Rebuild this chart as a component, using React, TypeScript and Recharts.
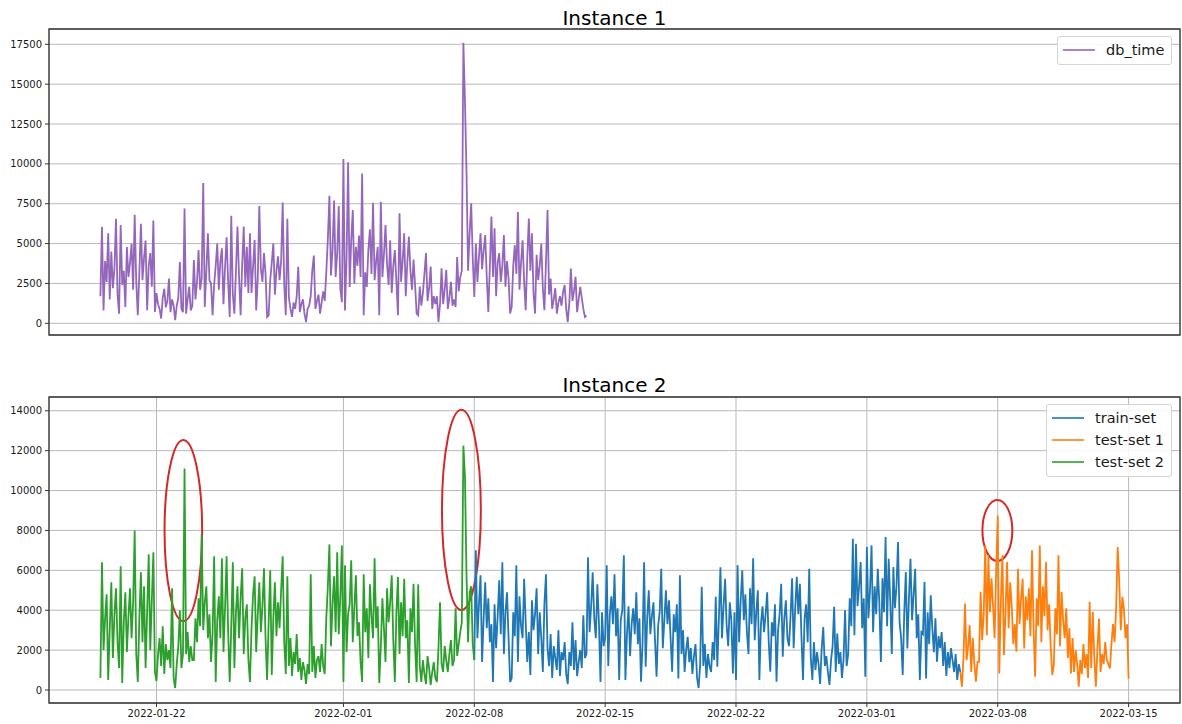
import React from 'react';
import { LineChart, Line, XAxis, YAxis, CartesianGrid, ReferenceArea, Legend } from 'recharts';

const FONT = '"DejaVu Sans", "Liberation Sans", sans-serif';
const STEP_MS = 2 * 3600 * 1000; // one sample every 2 hours

// ---- axes ----
const xTickLabels = ['2022-01-22', '2022-02-01', '2022-02-08', '2022-02-15', '2022-02-22', '2022-03-01', '2022-03-08', '2022-03-15'];
const xDomainLabels = ['2022-01-16T06:00Z', '2022-03-17T18:00Z'];
const topYTicks = [0, 2500, 5000, 7500, 10000, 12500, 15000, 17500];
const topYDomain = [-734, 18460];
const bottomYTicks = [0, 2000, 4000, 6000, 8000, 10000, 12000, 14000];
const bottomYDomain = [-652, 14690];

// ---- Instance 1 : db_time (2h samples, one row per day) ----
const dbTimeStart = '2022-01-19T00:00Z';
const dbTime = [
  1700, 6050, 800, 3900, 2600, 5650, 1500, 4500, 2200, 3400, 6550, 1800,
  600, 6170, 2400, 3300, 1030, 4790, 2900, 3800, 5000, 2100, 6800, 2600,
  500, 3200, 6250, 2700, 4100, 5190, 820, 3600, 4400, 2300, 6450, 710,
  1900, 1200, 900, 300, 1600, 2170, 1000, 1400, 2800, 700, 1500, 1100,
  200, 1100, 1600, 3850, 900, 700, 7200, 600, 1500, 2300, 800, 1100,
  3970, 1500, 2600, 4600, 2100, 2800, 8800, 1030, 3300, 5650, 2700, 2500,
  500, 2400, 3600, 5000, 2100, 3900, 4700, 1200, 3500, 5400, 2600, 400,
  6740, 1800, 600, 3300, 6070, 2900, 500, 3700, 6070, 2300, 4800, 1900,
  5650, 1900, 3600, 5230, 800, 2800, 7360, 3400, 2600, 4400, 3100, 400,
  500, 2700, 3800, 5020, 1800, 3300, 4200, 2700, 3900, 7570, 2400, 500,
  6550, 1600, 900, 400, 1300, 900, 1700, 3550, 700, 1200, 1500, 600,
  80, 900, 1100, 1700, 3300, 4250, 900, 1400, 1800, 600, 1300, 2000,
  1400, 3200, 5300, 8000, 3000, 4600, 7700, 2900, 4400, 7360, 2200, 1330,
  10300, 800, 4100, 10100, 2280, 5200, 7110, 2490, 4800, 3600, 5500, 2900,
  9400, 500, 3200, 2280, 4600, 5900, 3100, 7560, 2700, 3900, 4800, 500,
  7620, 2900, 4300, 6170, 3700, 2400, 5200, 1900, 3600, 4600, 2600, 500,
  6900, 2600, 3900, 5650, 1700, 3800, 5440, 3300, 2100, 4000, 2400, 610,
  500, 2300, 1100, 1900, 3100, 4410, 1400, 2200, 3560, 900, 1700, 1200,
  1700, 80, 1200, 3450, 1200, 2100, 3350, 900, 1600, 2600, 1100, 1500,
  1020, 4150, 2000, 2900, 3300, 17600, 14000, 9500, 3300, 5600, 7530, 4100,
  1650, 5000, 2600, 4200, 5650, 3400, 4600, 5540, 2900, 710, 3600, 6690,
  2900, 5960, 1700, 3800, 4400, 2600, 3600, 5540, 2300, 3900, 2800, 610,
  1020, 3600, 4900, 3100, 6980, 2100, 3800, 5200, 2600, 820, 4100, 6570,
  3300, 5650, 1900, 610, 4300, 2700, 3600, 5000, 2200, 820, 3800, 7110,
  1800, 2810, 900, 1500, 2200, 600, 1300, 1700, 1100, 2000, 2400, 900,
  80, 1300, 3430, 1400, 2000, 2910, 700, 1500, 2280, 1600, 900, 400,
  500,
];

// ---- Instance 2 : test-set 2 ----
const testSet2Start = '2022-01-19T00:00Z';
const testSet2 = [
  600, 6400, 2000, 3600, 4800, 500, 3100, 5400, 1600, 3800, 5100, 2400,
  1100, 6200, 350, 3400, 4900, 1900, 3700, 5100, 2600, 4400, 8000, 1800,
  400, 3600, 5900, 2400, 5200, 1100, 3900, 6800, 2000, 4500, 6900, 900,
  450, 1800, 2600, 1200, 3200, 800, 2300, 1500, 2000, 1100, 5100, 600,
  100, 1300, 2200, 4000, 1100, 1800, 11100, 1800, 2900, 1400, 2200, 1500,
  1500, 3600, 2400, 4600, 3200, 7800, 3000, 4400, 5200, 2600, 3800, 1400,
  2800, 6700, 400, 3500, 4700, 2600, 6600, 1900, 4100, 6700, 2900, 400,
  3200, 6400, 1100, 3900, 5200, 2600, 4600, 6100, 1800, 3600, 4300, 1500,
  400, 3100, 4800, 5700, 1900, 3800, 5400, 2900, 4200, 6100, 2600, 500,
  3400, 6000, 750, 3600, 5400, 2700, 4400, 3100, 5000, 6700, 2400, 800,
  5700, 1200, 2600, 700, 1900, 1300, 2800, 900, 1600, 500, 1400, 1000,
  300, 1300, 800, 5800, 900, 2200, 600, 1500, 1700, 900, 2300, 1200,
  800, 3600, 5200, 7300, 2200, 4300, 5700, 2900, 6900, 2800, 4700, 7250,
  400, 6250, 1900, 3800, 4300, 6500, 2400, 4100, 5750, 2700, 3400, 1400,
  400, 5800, 2900, 4100, 1600, 5300, 3700, 2600, 6600, 3100, 4200, 350,
  2200, 4600, 3100, 1400, 5100, 3400, 4400, 5750, 2500, 400, 3900, 5670,
  1800, 4400, 2700, 5580, 2600, 3500, 350, 4100, 2900, 5330, 2200, 400,
  5300, 1200, 400, 1500, 800, 300, 1700, 1100, 250, 900, 1400, 600,
  400, 2100, 4400, 1300, 900, 2200, 1500, 900, 1800, 2500, 1200, 1500,
  4100, 1700, 2300, 2900, 3400, 12250, 10700, 5800, 2400, 4900, 5200, 2300,
  1500,
];

// ---- Instance 2 : train-set ----
const trainSetStart = '2022-02-08T00:00Z';
const trainSet = [
  1500, 7000, 2600, 4300, 5750, 1400, 3600, 5400, 3100, 4600, 2400, 3300,
  400, 4300, 2100, 3700, 5500, 2800, 6400, 1800, 3900, 4900, 2600, 400,
  580, 3900, 2700, 6250, 1400, 4700, 3200, 2600, 5580, 3400, 1400, 2900,
  750, 4500, 3000, 3800, 5100, 1800, 3900, 2600, 900, 4300, 5800, 2100,
  1200, 2800, 600, 2200, 1600, 1000, 3000, 700, 1900, 1500, 2400, 800,
  300, 1900, 1200, 3400, 1000, 2500, 700, 1400, 2000, 1100, 3750, 1600,
  1800, 6650, 2900, 4200, 5900, 3600, 2600, 5300, 3400, 400, 3900, 2200,
  2600, 6250, 1200, 3800, 4700, 3300, 5800, 2700, 4100, 500, 3500, 4000,
  6750, 500, 2800, 4200, 1700, 3300, 4100, 2800, 4900, 2300, 3600, 420,
  2300, 6400, 1170, 3600, 5000, 2800, 3700, 4400, 2500, 670, 3200, 3900,
  6080, 2100, 3500, 5000, 3300, 4500, 2600, 920, 3800, 2900, 4300, 580,
  5750, 1800, 3000, 900, 2000, 2670, 1400, 2100, 800, 1700, 2300, 600,
  100, 1300, 5170, 1200, 2300, 600, 1800, 1200, 900, 2400, 1500, 4670,
  1170, 3600, 6150, 2600, 4200, 5580, 3200, 2200, 4400, 3500, 830, 3900,
  500, 6250, 2400, 4500, 6000, 3500, 4800, 2900, 1800, 5100, 3300, 6600,
  2500, 3900, 5000, 500, 3300, 4200, 2900, 3800, 4900, 2400, 920, 3400,
  2700, 4300, 420, 3000, 3800, 5330, 1670, 3600, 4500, 2600, 2200, 3700,
  5600, 2100, 4100, 5670, 3800, 5330, 2700, 500, 3600, 4300, 2400, 6080,
  1600, 500, 2400, 1000, 1900, 1300, 300, 2100, 3150, 1200, 1700, 900,
  250, 1500, 2200, 4170, 900, 2830, 1300, 1900, 600, 1500, 4000, 1200,
  1800, 4600, 3200, 7580, 2750, 7330, 4200, 5200, 6420, 3100, 4600, 670,
  7170, 3600, 5000, 7250, 2900, 5200, 3800, 6080, 4400, 1400, 5600, 3900,
  7670, 3200, 6580, 4500, 1800, 6170, 4100, 5200, 7420, 3400, 2600, 750,
  3900, 5920, 2080, 4600, 6580, 3500, 4800, 6080, 2600, 3800, 500, 2900,
  2800, 5420, 580, 3900, 2300, 4750, 3100, 1900, 3600, 1420, 2700, 2100,
  2900, 1200, 2400, 700, 1900, 1100, 2100, 1500, 900, 1800, 500, 1300,
  900,
];

// ---- Instance 2 : test-set 1 ----
const testSet1Start = '2022-03-06T00:00Z';
const testSet1 = [
  900, 170, 1600, 4330, 1500, 2200, 3250, 900, 2600, 1300, 420, 1400,
  1420, 4920, 2500, 3800, 7250, 2750, 6750, 3900, 5600, 4200, 2600, 6000,
  8750, 830, 4400, 6750, 1750, 3900, 6420, 3100, 5400, 4200, 2300, 3300,
  1920, 6080, 3300, 4600, 5580, 2080, 4700, 3500, 5100, 2700, 7000, 3100,
  670, 4600, 3200, 7250, 2400, 5200, 3700, 6420, 3000, 4300, 2200, 750,
  1250, 4100, 2800, 6750, 2200, 4920, 3500, 2600, 4100, 1600, 3100, 830,
  2600, 900, 2000, 1300, 170, 1500, 800, 2300, 1100, 1800, 600, 4420,
  1100, 3920, 1600, 170, 2100, 3580, 900, 1800, 1300, 2400, 1500, 1300,
  1080, 2300, 3300, 2400, 4100, 7170, 5420, 3000, 4670, 4080, 2600, 3300,
  580,
];

// ---- anomaly ellipses (time window, value window) ----
const anomalyFrom = ['2022-01-22T10:20Z', '2022-02-06T06:30Z', '2022-03-07T04:20Z'];
const anomalyTo = ['2022-01-24T10:35Z', '2022-02-08T08:25Z', '2022-03-08T18:45Z'];
const anomalyLow = [3450, 4010, 6470];
const anomalyHigh = [12540, 14050, 9530];

const topLegend = [{ label: 'db_time', color: '#9467bd' }];
const bottomLegend = [
  { label: 'train-set', color: '#1f77b4' },
  { label: 'test-set 1', color: '#ff7f0e' },
  { label: 'test-set 2', color: '#2ca02c' },
];

const toPoints = (start: string, values: number[]) =>
  values.map((v, i) => ({ t: Date.parse(start) + i * STEP_MS, v }));

const xTicks = xTickLabels.map((d) => Date.parse(d + 'T00:00Z'));
const xDomain = xDomainLabels.map((d) => Date.parse(d));
const fmtDate = (t: number) => new Date(t).toISOString().slice(0, 10);

const topSeries = [{ name: 'db_time', color: '#9467bd', points: toPoints(dbTimeStart, dbTime) }];
const bottomSeries = [
  { name: 'train-set', color: '#1f77b4', points: toPoints(trainSetStart, trainSet) },
  { name: 'test-set 1', color: '#ff7f0e', points: toPoints(testSet1Start, testSet1) },
  { name: 'test-set 2', color: '#2ca02c', points: toPoints(testSet2Start, testSet2) },
];
const anomalies = anomalyFrom.map((f, i) => ({
  x1: Date.parse(f),
  x2: Date.parse(anomalyTo[i]),
  y1: anomalyLow[i],
  y2: anomalyHigh[i],
}));

const LegendBox = ({ items }: { items: { label: string; color: string }[] }) => (
  <div
    style={{
      border: '1px solid #d4d4d4',
      borderRadius: 3,
      background: 'rgba(255,255,255,0.85)',
      padding: '2px 7px 3px 5px',
      fontFamily: FONT,
    }}
  >
    {items.map((it) => (
      <div key={it.label} style={{ display: 'flex', alignItems: 'center', height: 22 }}>
        <svg width={32} height={4} style={{ marginRight: 11, display: 'block' }}>
          <line x1={0} y1={2} x2={32} y2={2} stroke={it.color} strokeWidth={1.6} />
        </svg>
        <span style={{ fontSize: 14.5, color: '#1a1a1a', lineHeight: '22px', whiteSpace: 'nowrap' }}>{it.label}</span>
      </div>
    ))}
  </div>
);

const ellipseShape = (p: any) => (
  <ellipse
    cx={p.x + p.width / 2}
    cy={p.y + p.height / 2}
    rx={Math.abs(p.width) / 2}
    ry={Math.abs(p.height) / 2}
    fill="none"
    stroke="#d62728"
    strokeWidth={2}
  />
);

type PanelProps = {
  top: number;
  marginTop: number;
  xAxisHeight: number;
  showXLabels: boolean;
  yTicks: number[];
  yDomain: number[];
  series: { name: string; color: string; points: { t: number; v: number }[] }[];
  legend: { label: string; color: string }[];
  legendLeft: number;
  legendTop: number;
  marks: { x1: number; x2: number; y1: number; y2: number }[];
};

const Panel = (pp: PanelProps) => (
  <div style={{ position: 'absolute', left: 0, top: pp.top, width: 1182, height: 362 }}>
    <LineChart width={1182} height={362} margin={{ top: pp.marginTop, right: 2, bottom: 0, left: 0 }}>
      <CartesianGrid stroke="#b9b9b9" strokeWidth={1} />
      <XAxis
        type="number"
        dataKey="t"
        domain={xDomain}
        allowDataOverflow
        ticks={xTicks}
        interval={0}
        tickFormatter={fmtDate}
        tick={pp.showXLabels ? { fontSize: 10, fill: '#1a1a1a' } : false}
        tickSize={4}
        tickMargin={3}
        axisLine={false}
        tickLine={{ stroke: '#333' }}
        height={pp.xAxisHeight}
      />
      <YAxis
        type="number"
        domain={pp.yDomain}
        allowDataOverflow
        ticks={pp.yTicks}
        interval={0}
        tick={{ fontSize: 10, fill: '#1a1a1a' }}
        tickSize={4}
        tickMargin={3}
        axisLine={false}
        tickLine={{ stroke: '#333' }}
        width={49}
      />
      {pp.series.map((s) => (
        <Line
          key={s.name}
          data={s.points}
          dataKey="v"
          name={s.name}
          stroke={s.color}
          strokeWidth={1.8}
          dot={false}
          activeDot={false}
          isAnimationActive={false}
        />
      ))}
      {pp.marks.map((m, i) => (
        <ReferenceArea key={i} x1={m.x1} x2={m.x2} y1={m.y1} y2={m.y2} shape={ellipseShape} ifOverflow="visible" />
      ))}
      <ReferenceArea
        x1={xDomain[0]}
        x2={xDomain[1]}
        y1={pp.yDomain[0]}
        y2={pp.yDomain[1]}
        fill="none"
        fillOpacity={0}
        stroke="#333"
        strokeWidth={1.3}
        strokeOpacity={1}
        ifOverflow="visible"
      />
      <Legend
        layout="horizontal"
        verticalAlign="middle"
        align="center"
        wrapperStyle={{ left: pp.legendLeft, top: pp.legendTop, width: 'auto', height: 'auto' }}
        content={() => <LegendBox items={pp.legend} />}
      />
    </LineChart>
  </div>
);

export default function App() {
  return (
    <div
      style={{
        position: 'absolute',
        left: 0,
        top: 0,
        width: 1182,
        height: 724,
        background: '#fff',
        fontFamily: FONT,
        overflow: 'hidden',
      }}
    >
      <div style={{ position: 'absolute', left: 49, top: 8, width: 1131, textAlign: 'center', fontSize: 20, lineHeight: '20px', color: '#000' }}>
        Instance 1
      </div>
      <div style={{ position: 'absolute', left: 49, top: 375, width: 1131, textAlign: 'center', fontSize: 20, lineHeight: '20px', color: '#000' }}>
        Instance 2
      </div>
      <Panel
        top={0}
        marginTop={29}
        xAxisHeight={27}
        showXLabels={false}
        yTicks={topYTicks}
        yDomain={topYDomain}
        series={topSeries}
        legend={topLegend}
        legendLeft={1057}
        legendTop={36}
        marks={[]}
      />
      <Panel
        top={362}
        marginTop={35}
        xAxisHeight={21}
        showXLabels={true}
        yTicks={bottomYTicks}
        yDomain={bottomYDomain}
        series={bottomSeries}
        legend={bottomLegend}
        legendLeft={1046}
        legendTop={42}
        marks={anomalies}
      />
    </div>
  );
}
